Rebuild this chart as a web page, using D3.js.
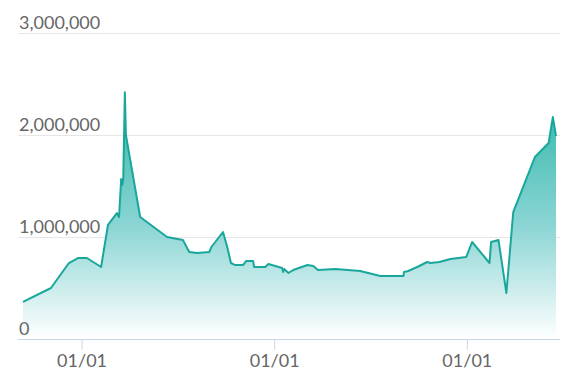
<!DOCTYPE html>
<html>
  <head>
    <script type="text/javascript" src="https://cdn.jsdelivr.net/npm/d3@7/dist/d3.min.js"></script>
    <style>
      body {
        margin: 0;
        background: #fff;
      }
      .axis text {
        fill: #666;
        font: 18px Lato, sans-serif;
      }
      .grid line {
        stroke: #e6e6e6;
        stroke-width: 1;
      }
    </style>
  </head>
  <body>
    <svg id="chart"></svg>
    <script type="text/javascript">
      // data
      var dates = [
        '2017-09-12', '2017-11-04', '2017-12-08', '2017-12-25', '2018-01-11',
        '2018-02-07', '2018-02-20', '2018-03-09', '2018-03-13', '2018-03-17',
        '2018-03-19', '2018-03-21', '2018-03-24', '2018-03-26', '2018-04-22',
        '2018-06-12', '2018-07-12', '2018-07-24', '2018-08-08', '2018-08-31',
        '2018-09-04', '2018-09-26', '2018-10-04', '2018-10-11', '2018-10-19',
        '2018-11-03', '2018-11-09', '2018-11-22', '2018-11-24', '2018-12-15',
        '2018-12-21', '2019-01-16', '2019-01-18', '2019-01-20', '2019-01-28',
        '2019-02-06', '2019-03-05', '2019-03-16', '2019-03-25', '2019-04-27',
        '2019-06-13', '2019-07-21', '2019-09-03', '2019-09-04', '2019-09-12',
        '2019-09-29', '2019-10-18', '2019-10-24', '2019-11-10', '2019-12-01',
        '2019-12-31', '2020-01-11', '2020-02-13', '2020-02-16', '2020-03-01',
        '2020-03-16', '2020-03-29', '2020-05-09', '2020-06-04', '2020-06-12',
        '2020-06-18'
      ];
      var values = [
        363000, 500000, 745000, 794000, 794000,
        706000, 1118000, 1235000, 1196000, 1569000,
        1510000, 1569000, 2420000, 2000000, 1196000,
        1000000, 970000, 853000, 843000, 853000,
        902000, 1049000, 902000, 745000, 725000,
        725000, 765000, 765000, 706000, 706000,
        735000, 696000, 657000, 686000, 647000,
        676000, 725000, 716000, 676000, 686000,
        667000, 618000, 618000, 657000, 667000,
        706000, 755000, 745000, 755000, 784000,
        804000, 951000, 745000, 951000, 971000,
        451000, 1245000, 1784000, 1922000, 2176000,
        1990000
      ];
      var yTicks = [0, 1000000, 2000000, 3000000];

      var width = 588,
        height = 386;
      var parseDate = d3.timeParse('%Y-%m-%d');
      var data = dates.map(function (d, i) {
        return { date: parseDate(d), value: values[i] };
      });

      var svg = d3.select('#chart').attr('width', width).attr('height', height);

      var xScale = d3
        .scaleTime()
        .domain(d3.extent(data, function (d) {
          return d.date;
        }))
        .range([23, 556]);
      var yScale = d3.scaleLinear().domain([0, 3000000]).range([339, 33]);

      // gradient for the area fill
      var grad = svg
        .append('defs')
        .append('linearGradient')
        .attr('id', 'areaGrad')
        .attr('gradientUnits', 'userSpaceOnUse')
        .attr('x1', 0)
        .attr('x2', 0)
        .attr('y1', yScale(2420000))
        .attr('y2', yScale(0));
      grad.append('stop').attr('offset', '0%').attr('stop-color', '#2db5a8');
      grad.append('stop').attr('offset', '55%').attr('stop-color', '#8dd6d5');
      grad.append('stop').attr('offset', '100%').attr('stop-color', '#ffffff');

      // horizontal grid lines
      svg
        .append('g')
        .attr('class', 'grid')
        .selectAll('line')
        .data(yTicks.slice(1))
        .enter()
        .append('line')
        .attr('x1', 18)
        .attr('x2', 560)
        .attr('y1', function (d) {
          return Math.round(yScale(d)) + 0.5;
        })
        .attr('y2', function (d) {
          return Math.round(yScale(d)) + 0.5;
        });

      var area = d3
        .area()
        .x(function (d) {
          return xScale(d.date);
        })
        .y0(yScale(0))
        .y1(function (d) {
          return yScale(d.value);
        });
      var line = d3
        .line()
        .x(function (d) {
          return xScale(d.date);
        })
        .y(function (d) {
          return yScale(d.value);
        });

      svg.append('path').datum(data).attr('d', area).attr('fill', 'url(#areaGrad)');
      svg
        .append('path')
        .datum(data)
        .attr('d', line)
        .attr('fill', 'none')
        .attr('stroke', '#1aa79b')
        .attr('stroke-width', 2)
        .attr('stroke-linejoin', 'round');

      // y labels sit above the grid lines, left aligned
      var yAxis = svg.append('g').attr('class', 'axis');
      yAxis
        .selectAll('text')
        .data(yTicks)
        .enter()
        .append('text')
        .attr('x', 19)
        .attr('y', function (d) {
          return yScale(d) - 4;
        })
        .text(d3.format(','));

      // x axis
      var xAxis = svg
        .append('g')
        .attr('class', 'axis')
        .attr('transform', 'translate(0,' + 339.5 + ')')
        .call(
          d3
            .axisBottom(xScale)
            .ticks(d3.timeYear.every(1))
            .tickFormat(d3.timeFormat('%m/%d'))
            .tickSize(10)
            .tickPadding(5)
        );
      xAxis.select('.domain').attr('d', 'M18,0H560').attr('stroke', '#ccd6eb');
      xAxis.selectAll('.tick line').attr('stroke', '#ccd6eb');
    </script>
  </body>
</html>
